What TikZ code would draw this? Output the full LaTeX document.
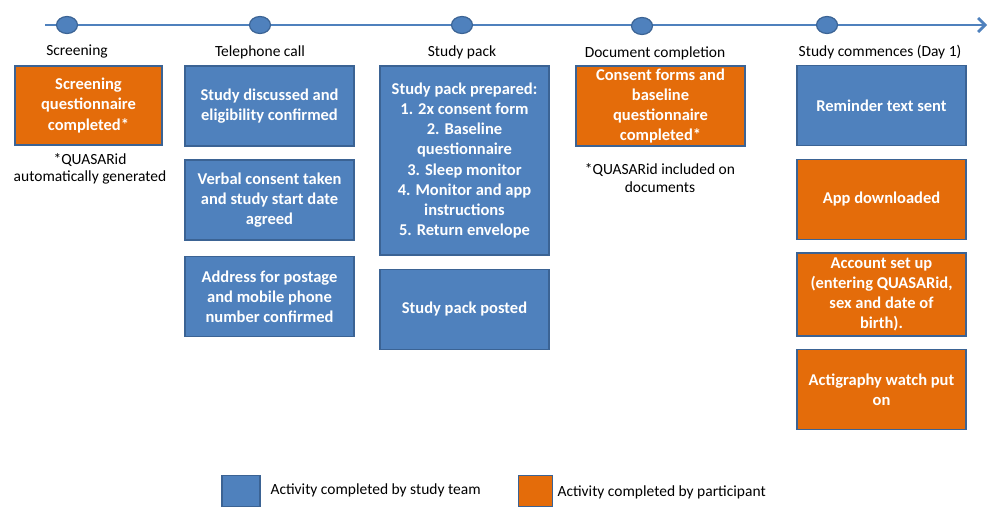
\documentclass[tikz,border=0pt]{standalone}
\usepackage{fontspec}
\setmainfont{Carlito}
\usetikzlibrary{arrows.meta, shapes.geometric}
\definecolor{teamblue}{HTML}{4F81BD}
\definecolor{edgeblue}{HTML}{3B6394}
\definecolor{partorange}{HTML}{E46C0A}
\begin{document}
\begin{tikzpicture}[x=1pt, y=-1pt,
        team/.style={draw=edgeblue, line width=1.8pt, fill=teamblue, text=white, minimum width=169pt, minimum height=80pt, inner sep=1pt, align=center, font=\fontsize{16.5}{20.2}\selectfont\bfseries},
        part/.style={team, fill=partorange},
        stage/.style={font=\fontsize{15.5}{17}\selectfont},
        note/.style={font=\fontsize{15.5}{17.5}\selectfont, align=center},
        milestone/.style={ellipse, draw=edgeblue, line width=1.2pt, fill=teamblue, minimum width=21pt, minimum height=17pt, inner sep=0pt},
        swatch/.style={draw=edgeblue, line width=1.8pt, minimum width=38pt, minimum height=31pt}
    ]
        \useasboundingbox (0,0) rectangle (989,518);

        % timeline
        \coordinate (start) at (45,25);
        \coordinate (finish) at (987,25);
        \draw[teamblue, line width=2.8pt, -{Straight Barb[length=7pt, width=14pt]}] (start) -- (finish);
        \node (m1) at (67,25) [milestone] {};
        \node (m2) at (260,25) [milestone] {};
        \node (m3) at (462,25) [milestone] {};
        \node (m4) at (642,26) [milestone] {};
        \node (m5) at (827,25) [milestone] {};

        \node (screening) at (77,52) [stage] {Screening};
        \node (telephone) at (260,52) [stage] {Telephone call};
        \node (studypack) at (462,52) [stage] {Study pack};
        \node (document) at (655,53) [stage] {Document completion};
        \node (commence) at (880,52) [stage] {Study commences (Day 1)};

        % screening
        \node (screenq) at (88.5,105.5) [part, minimum width=147pt, minimum height=79pt] {Screening\\questionnaire\\completed*};
        \node (idgen) at (90,169) [note] {*QUASARid\\automatically generated};

        % telephone call
        \node (eligible) at (269.5,106) [team] {Study discussed and\\eligibility confirmed};
        \node (verbal) at (269.5,200) [team] {Verbal consent taken\\and study start date\\agreed};
        \node (address) at (269.5,296.5) [team] {Address for postage\\and mobile phone\\number confirmed};

        % study pack
        \node (prepared) at (464.5,160.5) [team, minimum height=189pt] {Study pack prepared:\\1. 2x consent form\\2. Baseline\\questionnaire\\3. Sleep monitor\\4. Monitor and app\\instructions\\5. Return envelope};
        \node (posted) at (464.5,309.5) [team] {Study pack posted};

        % document completion
        \node (consent) at (660.5,106) [part, inner sep=0pt] {Consent forms and\\baseline\\questionnaire\\completed*};
        \node (idincl) at (660,178) [note] {*QUASARid included on\\documents};

        % study commences
        \node (reminder) at (881.5,105.5) [team] {Reminder text sent};
        \node (app) at (881.5,199.5) [part] {App downloaded};
        \node (account) at (881.5,294.5) [part, minimum height=83pt] {Account set up\\(entering QUASARid,\\sex and date of\\birth).};
        \node (watch) at (881.5,389.5) [part] {Actigraphy watch put\\on};

        % legend
        \node (keyteam) at (241,491) [swatch, fill=teamblue] {};
        \node (keyteamtext) at (267,490) [stage, anchor=west] {Activity completed by study team};
        \node (keypart) at (535.5,491) [swatch, fill=partorange, minimum width=34pt] {};
        \node (keyparttext) at (554,492) [stage, anchor=west] {Activity completed by participant};
    \end{tikzpicture}
\end{document}
